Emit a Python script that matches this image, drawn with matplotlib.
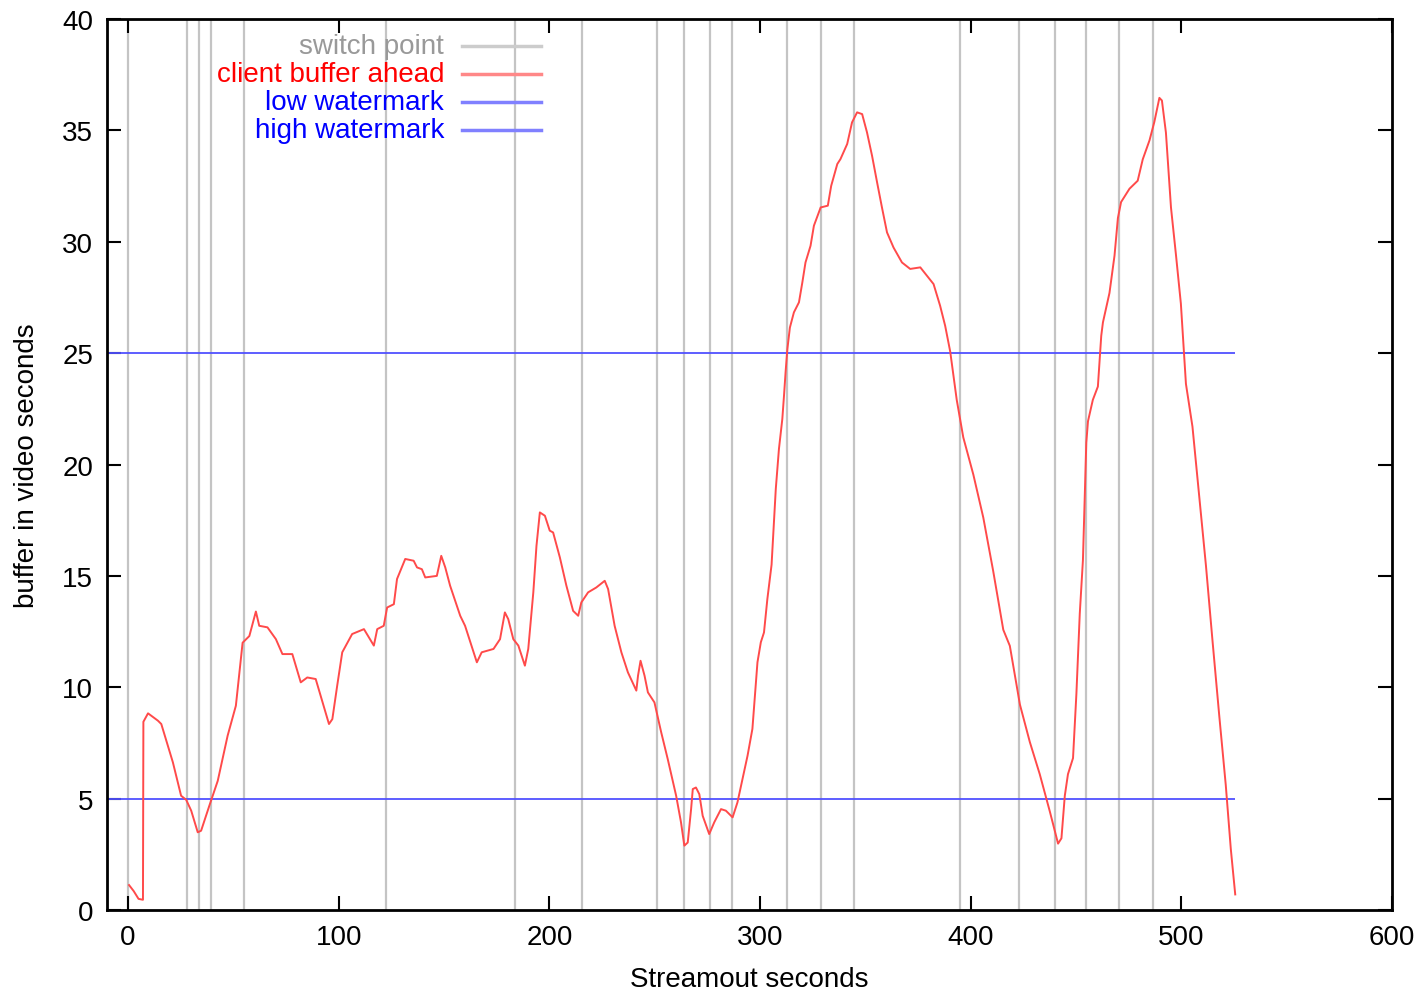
import matplotlib
matplotlib.use("Agg")
import matplotlib.pyplot as plt

plt.rcParams["font.family"] = ["Liberation Sans", "DejaVu Sans"]

# switch points (seconds)
switch_points = [0, 27.9, 33.6, 39.3, 54.9, 122.5, 183.5, 215.7, 251.2, 264.0,
                 276.3, 286.7, 312.7, 328.8, 344.4, 395.0, 422.9, 439.9,
                 454.6, 470.2, 486.8]

# client buffer ahead
buf_t = [0.5, 2.7, 5.0, 7.1, 7.3, 9.5, 14.2, 15.8, 21.3, 25.2, 27.6, 30.0,
         33.1, 34.7, 38.6, 42.6, 47.3, 51.2, 54.4, 57.6, 60.7, 62.3, 66.2,
         70.2, 73.3, 78.0, 82.0, 85.1, 89.1, 95.4, 97.0, 99.3, 101.7, 106.4,
         112.0, 116.7, 118.3, 121.4, 123.0, 126.2, 127.7, 131.6, 135.6, 137.2,
         139.5, 141.1, 146.6, 148.7, 150.6, 152.9, 157.7, 160.0, 165.6, 167.9,
         173.5, 176.6, 178.9, 180.5, 182.9, 185.3, 188.4, 190.0, 192.4, 193.9,
         195.5, 197.9, 200.2, 201.8, 205.0, 208.1, 211.3, 213.7, 215.2, 218.4,
         222.3, 226.3, 227.9, 231.0, 234.2, 237.3, 241.3, 242.1, 243.3, 245.2,
         246.8, 249.9, 253.1, 256.2, 260.2, 262.5, 264.1, 265.7, 267.3, 268.1,
         269.6, 271.2, 272.8, 275.9, 278.3, 281.5, 283.8, 287.0, 289.3, 291.7,
         294.1, 296.4, 298.8, 300.4, 301.9, 303.5, 305.5, 307.5, 309.0, 310.6,
         311.4, 312.2, 313.0, 314.2, 316.1, 318.5, 320.1, 321.6, 324.0, 325.6,
         328.8, 332.2, 333.8, 336.7, 338.2, 341.4, 343.7, 346.1, 348.5, 350.8,
         353.2, 355.6, 357.9, 360.3, 363.4, 367.4, 371.3, 376.1, 379.2, 382.4,
         385.5, 387.9, 390.3, 393.4, 396.5, 401.3, 406.0, 410.7, 415.5, 418.6,
         423.4, 428.1, 432.8, 437.6, 441.5, 443.1, 444.7, 446.2, 448.6, 450.2,
         451.8, 453.3, 454.1, 454.9, 455.7, 458.0, 460.4, 462.0, 462.8, 465.9,
         468.3, 469.9, 471.4, 475.4, 479.3, 481.7, 484.9, 487.2, 489.6, 490.8,
         492.7, 495.1, 497.5, 499.8, 502.2, 505.3, 508.5, 511.7, 514.8, 518.0,
         521.1, 523.5, 525.6]
buf_v = [1.12, 0.85, 0.5, 0.46, 8.45, 8.83, 8.5, 8.35, 6.63, 5.13, 4.95, 4.46,
         3.49, 3.56, 4.68, 5.8, 7.83, 9.17, 12.0, 12.3, 13.4, 12.76, 12.69,
         12.16, 11.49, 11.49, 10.22, 10.44, 10.37, 8.35, 8.57, 10.07, 11.57,
         12.39, 12.61, 11.87, 12.61, 12.76, 13.58, 13.73, 14.86, 15.76, 15.68,
         15.38, 15.3, 14.93, 15.0, 15.9, 15.38, 14.56, 13.21, 12.76, 11.12,
         11.57, 11.72, 12.16, 13.36, 13.06, 12.16, 11.87, 10.97, 11.72, 14.26,
         16.35, 17.85, 17.7, 17.03, 16.95, 15.83, 14.56, 13.43, 13.21, 13.81,
         14.26, 14.48, 14.78, 14.41, 12.76, 11.57, 10.67, 9.85, 10.52, 11.19,
         10.52, 9.77, 9.32, 7.98, 6.78, 5.13, 3.94, 2.89, 3.03, 4.53, 5.43,
         5.5, 5.2, 4.23, 3.41, 3.94, 4.53, 4.46, 4.16, 4.83, 5.88, 6.93, 8.13,
         11.12, 12.02, 12.46, 13.96, 15.5, 18.9, 20.7, 22.04, 23.09, 24.21,
         25.18, 26.15, 26.83, 27.28, 28.17, 29.07, 29.82, 30.72, 31.54, 31.62,
         32.51, 33.49, 33.71, 34.39, 35.36, 35.81, 35.73, 34.91, 33.86, 32.66,
         31.54, 30.42, 29.74, 29.07, 28.78, 28.85, 28.48, 28.1, 27.13, 26.23,
         25.07, 22.9, 21.22, 19.54, 17.62, 15.22, 12.58, 11.86, 9.22, 7.54, 6.1,
         4.42, 2.98, 3.22, 5.13, 6.1, 6.82, 9.7, 13.3, 15.7, 18.33, 20.98,
         21.94, 22.9, 23.5, 25.78, 26.38, 27.7, 29.38, 31.06, 31.78, 32.38,
         32.74, 33.7, 34.55, 35.38, 36.46, 36.34, 34.9, 31.54, 29.38, 27.22,
         23.62, 21.7, 18.58, 15.46, 12.1, 8.74, 5.62, 2.74, 0.7]

low_watermark = 5
high_watermark = 25

x_ticks = [0, 100, 200, 300, 400, 500, 600]
y_ticks = [0, 5, 10, 15, 20, 25, 30, 35, 40]

fig = plt.figure(figsize=(14.24, 9.95), dpi=100)
ax = fig.add_axes([0.0751, 0.0844, 0.9024, 0.8955])
ax.set_xlim(-10, 600)
ax.set_ylim(0, 40)

for sp in switch_points:
    ax.axvline(sp, color="#c4c4c4", lw=1.6, zorder=1)

ax.hlines([low_watermark, high_watermark], -10, buf_t[-1], colors="#5050ff",
          lw=1.3, zorder=2)
ax.plot(buf_t, buf_v, color="#ff4a4a", lw=1.4, zorder=3)

ax.set_xticks(x_ticks)
ax.set_yticks(y_ticks)
ax.tick_params(direction="in", length=10, width=1.5, top=True, right=True,
               labelsize=20, pad=10)
for s in ax.spines.values():
    s.set_linewidth(2)

ax.set_xlabel("Streamout seconds", fontsize=20)
ax.xaxis.set_label_coords(0.5, -0.063)
ax.set_ylabel("buffer in video seconds", fontsize=20)
ax.yaxis.set_label_coords(-0.052, 0.5)

# gnuplot-style key
legend_items = [("switch point", "#999999", "#cccccc"),
                ("client buffer ahead", "#ff0000", "#ff8888"),
                ("low watermark", "#0000ff", "#8080ff"),
                ("high watermark", "#0000ff", "#8080ff")]
for i, (label, tcol, lcol) in enumerate(legend_items):
    yy = 0.9697 - i * 0.0314
    ax.text(0.2623, yy, label, color=tcol, fontsize=20, ha="right",
            va="center", transform=ax.transAxes)
    ax.plot([0.2763, 0.3377], [yy, yy], color=lcol, lw=2.5,
            transform=ax.transAxes, zorder=4)

fig.savefig("out.png", dpi=100)
